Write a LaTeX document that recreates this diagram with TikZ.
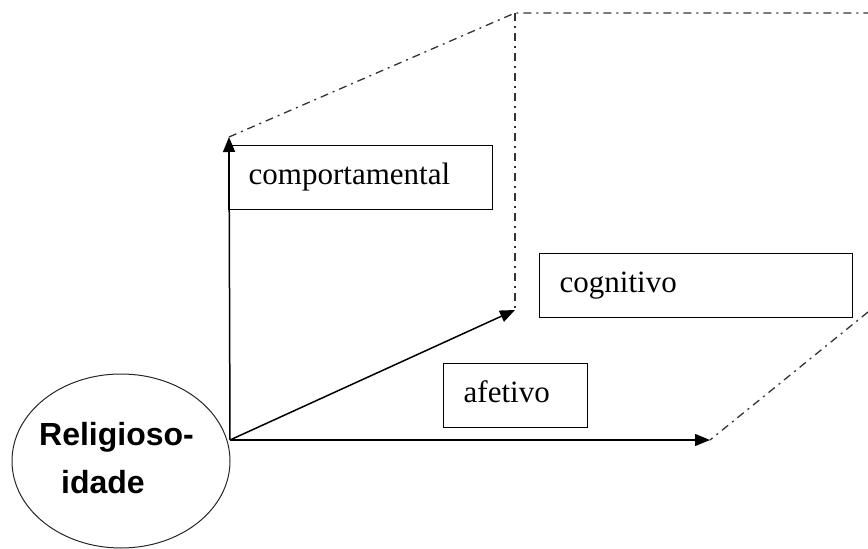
\documentclass[tikz,border=0pt]{standalone}
\usepackage{fontspec}
\setmainfont{Liberation Serif}
\newfontfamily\arialfont{Liberation Sans}
\usetikzlibrary{shapes.geometric,arrows.meta}
\begin{document}
\begin{tikzpicture}[x=1pt,y=-1pt,
  dimbox/.style={draw=black,line width=1.4pt,anchor=north west,inner xsep=20pt,inner ysep=0pt,
    align=left,minimum height=64pt,font=\fontsize{31}{36}\selectfont},
  axisarrow/.style={line width=1.5pt,-{Triangle[length=15pt,width=12pt]}},
  dashdot/.style={line width=1.3pt,black!80,dash pattern=on 8pt off 5pt on 2pt off 5pt},
  reltext/.style={anchor=base west,inner sep=0pt,font=\arialfont\bfseries\fontsize{32}{38}\selectfont}]
\useasboundingbox (0,0) rectangle (868,549);
% ellipse
\node[ellipse,draw=black!85,line width=1pt,minimum width=218pt,minimum height=174pt,inner sep=0pt] (rel) at (121,461) {};
\node[reltext] (t1) at (39,445) {Religioso-};
\node[reltext] (t2) at (61,493) {idade};
% boxes
\node[dimbox,text width=224pt] (comp) at (228,145) {\strut comportamental};
\node[dimbox,text width=273pt] (cogn) at (539,253) {\strut cognitivo};
\node[dimbox,text width=104pt] (afet) at (443,363) {\strut afetivo};
% coordinates
\coordinate (o) at (230,440);
\coordinate (tC) at (229,137);
\coordinate (tG) at (515,310);
\coordinate (tA) at (710,440);
\coordinate (c1) at (515,13);
\coordinate (c2) at (868,13);
\coordinate (c3) at (868,312);
% arrows
\draw[axisarrow] (o) -- (tC);
\draw[axisarrow] (o) -- (tG);
\draw[axisarrow] (o) -- (tA);
% dash-dot frame
\draw[dashdot] (tC) -- (c1) -- (c2);
\draw[dashdot] (c1) -- (tG);
\draw[dashdot] (c3) -- (tA);
\end{tikzpicture}
\end{document}
